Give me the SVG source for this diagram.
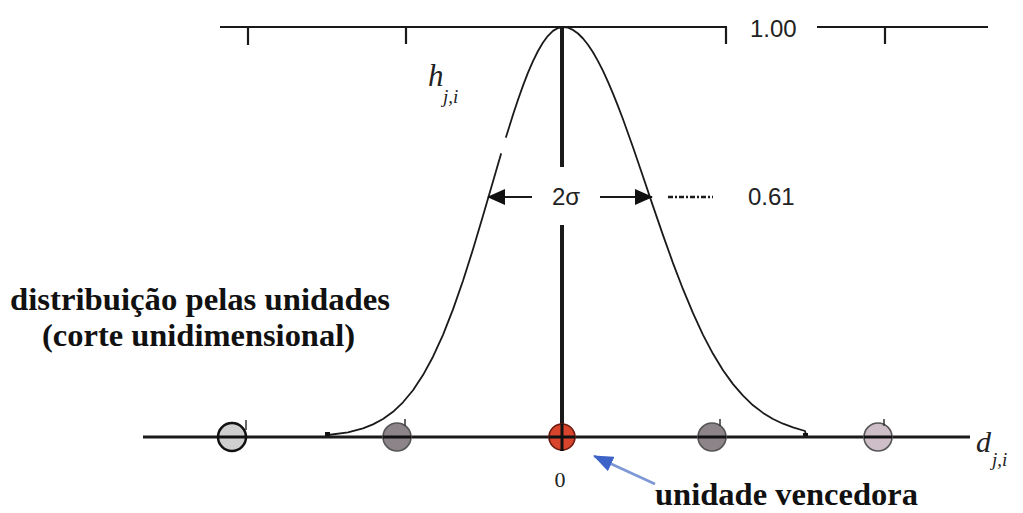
<svg xmlns="http://www.w3.org/2000/svg" width="1023" height="513" viewBox="0 0 1023 513">
<style>
.ax{stroke:#1a1a1a;fill:none}
.lbl{font-family:"Liberation Sans",Arial,sans-serif;fill:#222;font-size:24px}
.bold{font-family:"Liberation Serif","Times New Roman",serif;font-weight:bold;fill:#111;font-size:32px}
.it{font-family:"Liberation Serif","Times New Roman",serif;font-style:italic;fill:#222}
.unit{stroke-width:1.6}
</style>
<defs>
<marker id="bk" viewBox="0 0 18 16" refX="17" refY="8" markerWidth="18" markerHeight="16" markerUnits="userSpaceOnUse" orient="auto"><path d="M0,0 L18,8 L0,16 Z" fill="#111"/></marker>
<marker id="bl" viewBox="0 0 20 16" refX="19" refY="8" markerWidth="20" markerHeight="16" markerUnits="userSpaceOnUse" orient="auto"><path d="M0,0 L20,8 L0,16 Z" fill="#3d63c9"/></marker>
</defs>
<rect width="1023" height="513" fill="#ffffff"/>
<g id="top-axis" class="ax" stroke-width="2.2">
<path d="M220,27 H727 M817,27 H988"/>
<path d="M248,27 V45 M406,27 V44 M726,27 V44 M885,27 V44"/>
</g>
<text class="lbl" x="750" y="37" font-size="25">1.00</text>
<g id="curve" class="ax" stroke-width="1.8" stroke-linejoin="round" stroke-linecap="round">
<path d="M328,435 L348,432.3 L363,428.3 L373,424.4 L383,419 L393,411.8 L403,402.3 L413,390.2 L423,375.1 L433,356.7 L443,334.8 L453,309.4 L463,280.7 L473,249.3 L483,215.8 L493,181.4 L498,164.2 L501,154 M506,137 L508,130.8 L513,114.8 L518,99.7 L523,85.6 L528,72.7 L533,61.1 L538,51 L543,42.5 L548,35.8 L553,30.9 L558,28 L563,27 L568,27.7 L573,29.9 L578,33.5 L583,38.5 L588,44.8 L593,52.3 L598,61.1 L603,70.9 L608,81.8 L613,93.6 L618,106.1 L623,119.3 L633,147.3 L643,176.5 L653,206.1 L663,235.1 L673,263.1 L683,289.2 L693,313.2 L703,334.8 L713,353.8 L723,370.2 L733,384.1 L743,395.7 L753,405.3 L763,412.9 L773,419 L783,423.7 L793,427.3 L805,431 L806,435"/>
<rect x="325" y="432" width="5" height="5" fill="#111" stroke="none"/>
<rect x="803" y="433" width="5" height="5" fill="#111" stroke="none"/>
</g>
<text class="it" x="428" y="86" font-size="31">h</text>
<text class="it" x="443" y="103" font-size="19">j,i</text>
<g id="center-line" class="ax" stroke-width="4">
<path d="M562,27 V167 M562,225 V451"/>
</g>
<g id="connectors" class="ax">
<line x1="532" y1="197" x2="488" y2="197" stroke-width="2" marker-end="url(#bk)"/>
<line x1="600" y1="197" x2="652" y2="197" stroke-width="2" marker-end="url(#bk)"/>
<line x1="668" y1="197" x2="713" y2="197" stroke-width="2.5" stroke-dasharray="5 2 2 2"/>
<line x1="655" y1="484" x2="594" y2="456" stroke="#7d98d4" stroke-width="2.5" marker-end="url(#bl)"/>
</g>
<text class="lbl" x="552" y="205">2σ</text>
<text class="lbl" x="748" y="205">0.61</text>
<g id="bottom-axis" class="ax" stroke-width="3">
<line x1="143" y1="437" x2="970" y2="437"/>
</g>
<g id="unit-1"><circle cx="232" cy="437" r="14" fill="#cfcfcf" stroke="#111" stroke-width="2.5"/><line x1="246" y1="420" x2="246" y2="430" stroke="#333" stroke-width="1.5"/><line x1="218" y1="437" x2="246" y2="437" stroke="#111" stroke-width="3"/></g>
<g id="unit-2"><circle cx="397" cy="437" r="14" fill="#8c8489" stroke="#555" class="unit"/><line x1="405" y1="419" x2="405" y2="426" stroke="#333" stroke-width="1.5"/><line x1="383" y1="437" x2="411" y2="437" stroke="#111" stroke-width="3"/></g>
<g id="unit-winner"><circle cx="562" cy="437" r="13" fill="#d8442c" stroke="#6b1b10" class="unit"/><line x1="549" y1="437" x2="575" y2="437" stroke="#111" stroke-width="3"/><line x1="562" y1="424" x2="562" y2="451" stroke="#111" stroke-width="3"/></g>
<g id="unit-4"><circle cx="712" cy="437" r="14" fill="#8c8489" stroke="#555" class="unit"/><line x1="720" y1="419" x2="720" y2="426" stroke="#333" stroke-width="1.5"/><line x1="698" y1="437" x2="726" y2="437" stroke="#111" stroke-width="3"/></g>
<g id="unit-5"><circle cx="878" cy="437" r="14" fill="#cdbec8" stroke="#555" class="unit"/><line x1="884" y1="419" x2="884" y2="426" stroke="#333" stroke-width="1.5"/><line x1="864" y1="437" x2="892" y2="437" stroke="#111" stroke-width="3"/></g>
<text class="it" x="976" y="452" font-size="30">d</text>
<text class="it" x="992" y="466" font-size="19">j,i</text>
<text x="560" y="487" text-anchor="middle" font-family="Liberation Serif, serif" font-size="22" fill="#222">0</text>
<text class="bold" x="655" y="505" textLength="263" lengthAdjust="spacingAndGlyphs">unidade vencedora</text>
<text class="bold" x="10" y="310" textLength="380" lengthAdjust="spacingAndGlyphs">distribuição pelas unidades</text>
<text class="bold" x="42" y="346" textLength="313" lengthAdjust="spacingAndGlyphs">(corte unidimensional)</text>
</svg>
